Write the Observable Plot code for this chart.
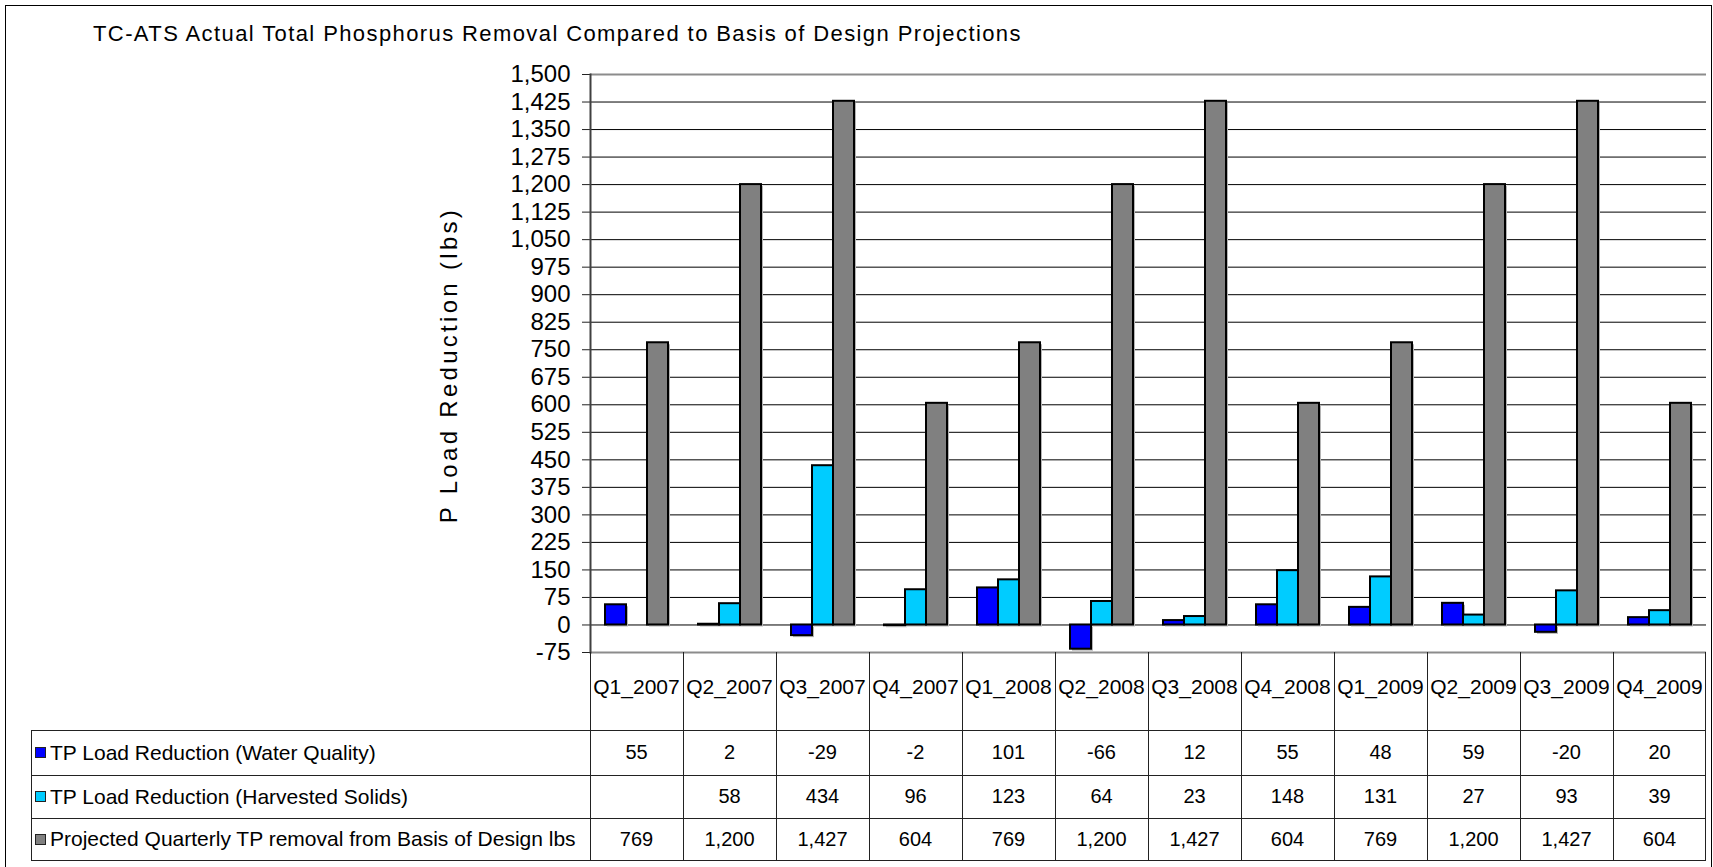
<!DOCTYPE html>
<html>
<head>
<meta charset="utf-8">
<script src="https://cdn.jsdelivr.net/npm/d3@7"></script>
<script src="https://cdn.jsdelivr.net/npm/@observablehq/plot@0.6"></script>
<style>
html, body { margin: 0; padding: 0; background: #fff; overflow: hidden; }
#wrap { position: relative; width: 1713px; height: 867px; overflow: hidden;
  font-family: "Liberation Sans", Arial, sans-serif; color: #000; }
#border { position: absolute; left: 5px; top: 5px; width: 1707px; height: 900px;
  border: 1.5px solid #000; box-sizing: border-box; }
#title { position: absolute; left: 93px; top: 23px; font-size: 22px; line-height: 22px;
  letter-spacing: 1.4px; white-space: nowrap; }
#ylabel { position: absolute; left: 449px; top: 365px; transform: translate(-50%, -50%) rotate(-90deg);
  font-size: 24px; letter-spacing: 3.3px; white-space: nowrap; }
#chart { position: absolute; left: 0; top: 0; }
.ln { position: absolute; }
.cell { position: absolute; display: flex; align-items: center; justify-content: center;
  white-space: nowrap; box-sizing: border-box; }
.hdr { font-size: 21px; padding-bottom: 8px; }
.val { font-size: 20px; }
.leg { font-size: 21px; justify-content: flex-start; padding-left: 4px; }
.sw { display: inline-block; width: 9px; height: 9px; border: 1.5px solid #222; margin-right: 4px; }
</style>
</head>
<body>
<div id="wrap">
  <div id="border"></div>
  <div id="title">TC-ATS Actual Total Phosphorus Removal Compared to Basis of Design Projections</div>
  <div id="ylabel">P Load Reduction (lbs)</div>
</div>
<script>
const quarters = ["Q1_2007", "Q2_2007", "Q3_2007", "Q4_2007", "Q1_2008", "Q2_2008",
  "Q3_2008", "Q4_2008", "Q1_2009", "Q2_2009", "Q3_2009", "Q4_2009"];
const seriesNames = [
  "TP Load Reduction (Water Quality)",
  "TP Load Reduction (Harvested Solids)",
  "Projected Quarterly TP removal from Basis of Design lbs"
];
const waterQuality = [55, 2, -29, -2, 101, -66, 12, 55, 48, 59, -20, 20];
const harvestedSolids = [null, 58, 434, 96, 123, 64, 23, 148, 131, 27, 93, 39];
const projected = [769, 1200, 1427, 604, 769, 1200, 1427, 604, 769, 1200, 1427, 604];
const seriesColors = ["#0000ff", "#00ccff", "#808080"];
const yTicks = [-75, 0, 75, 150, 225, 300, 375, 450, 525, 600, 675, 750, 825, 900,
  975, 1050, 1125, 1200, 1275, 1350, 1425, 1500];

const seriesValues = [waterQuality, harvestedSolids, projected];
const rows = [];
seriesNames.forEach((s, si) => {
  quarters.forEach((q, qi) => {
    rows.push({q, series: s, value: seriesValues[si][qi]});
  });
});
const barRows = rows.filter(d => d.value != null);
const locale = d3.formatLocale({decimal: ".", thousands: ",", grouping: [3], currency: ["$", ""], minus: "-"});
const fmt = locale.format(",");

const chart = Plot.plot({
  width: 1713,
  height: 660,
  marginLeft: 585,
  marginRight: 2,
  marginTop: 74,
  marginBottom: 8,
  style: {fontFamily: "'Liberation Sans', Arial, sans-serif", fontSize: "24px", color: "#000", background: "transparent", overflow: "visible"},
  fx: {domain: quarters, padding: 0, axis: null},
  x: {domain: seriesNames, paddingInner: 0, paddingOuter: 0.68, axis: null},
  y: {domain: [-75, 1500], axis: null},
  color: {domain: seriesNames, range: seriesColors},
  marks: [
    Plot.gridY(yTicks.slice(1, -1), {stroke: "#000", strokeOpacity: 1, strokeWidth: 1}),
    Plot.ruleY([yTicks[yTicks.length - 1], yTicks[0]], {stroke: "#8c8c8c", strokeWidth: 2}),
    Plot.barY(barRows, {fx: "q", x: "series", y: "value", fill: "#b4b4b4", dx: 2, dy: 2, insetLeft: 0, insetRight: 0}),
    Plot.barY(barRows, {fx: "q", x: "series", y: "value", fill: "series", stroke: "#000", strokeWidth: 2, insetLeft: 0, insetRight: 0}),
    Plot.axisY(yTicks, {tickFormat: fmt, fontSize: 24, tickSize: 8, tickPadding: 12, label: null, stroke: "#222"}),
    Plot.frame({anchor: "left", facetAnchor: "left", stroke: "#404040", strokeWidth: 2})
  ]
});
chart.id = "chart";
const wrap = document.getElementById("wrap");
wrap.insertBefore(chart, document.getElementById("title"));

// Data table below the chart, aligned to the chart's fx scale
const fxS = chart.scale("fx");
const yS = chart.scale("y");
const bw = fxS.bandwidth;
const colLeft = q => fxS.apply(q);
const tableTop = yS.apply(yTicks[0]);
const rowTops = [tableTop, tableTop + 78, tableTop + 123, tableTop + 166];
const tableBottom = tableTop + 208;
const legendLeft = 31;
const plotLeft = colLeft(quarters[0]);
const plotRight = colLeft(quarters[quarters.length - 1]) + bw;

function line(x, y, w, h, color) {
  const d = document.createElement("div");
  d.className = "ln";
  Object.assign(d.style, {left: x + "px", top: y + "px", width: w + "px", height: h + "px", background: color});
  wrap.appendChild(d);
}
function cell(html, x, y, w, h, cls) {
  const d = document.createElement("div");
  d.className = "cell " + cls;
  Object.assign(d.style, {left: x + "px", top: y + "px", width: w + "px", height: h + "px"});
  d.innerHTML = html;
  wrap.appendChild(d);
}
quarters.forEach(q => cell(q, colLeft(q), rowTops[0], bw, rowTops[1] - rowTops[0], "hdr"));
seriesNames.forEach((s, si) => {
  const top = rowTops[si + 1];
  const h = (si + 2 < rowTops.length ? rowTops[si + 2] : tableBottom) - top;
  cell('<span class="sw" style="background:' + seriesColors[si] + '"></span>' + s, legendLeft, top, plotLeft - legendLeft, h, "leg");
  quarters.forEach((q, qi) => {
    const v = seriesValues[si][qi];
    cell(v == null ? "" : fmt(v), colLeft(q), top, bw, h, "val");
  });
});
quarters.forEach(q => line(colLeft(q) - 0.5, tableTop, 1, tableBottom - tableTop, "#222"));
line(plotRight - 1, tableTop, 1, tableBottom - tableTop, "#222");
[rowTops[1], rowTops[2], rowTops[3], tableBottom].forEach(y => line(legendLeft, y, plotRight - legendLeft, 1, "#222"));
line(legendLeft, rowTops[1], 1, tableBottom - rowTops[1], "#222");
</script>
</body>
</html>
